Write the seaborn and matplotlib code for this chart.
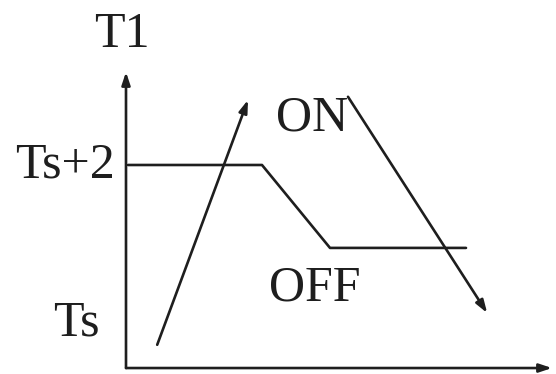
import matplotlib
matplotlib.use("Agg")
import matplotlib.pyplot as plt
import seaborn as sns
import pandas as pd

# threshold curve (x in arbitrary time units, y in T1 units with Ts = 0)
thr_x = [0.05, 3.4, 5.1, 8.5]
thr_y = [2.0, 2.0, 0.93, 0.93]

# arrows: heating (ON) and cooling (OFF) paths
rise_start = (0.78, -0.32)
rise_end = (3.05, 2.84)
fall_start = (5.55, 2.88)
fall_end = (9.03, 0.09)

axis_origin = (0.0, -0.62)
x_axis_end = 10.65
y_axis_end = 3.2

labels = {"T1": (-0.1, 3.68), "Ts+2": (-0.28, 2.0), "Ts": (-0.65, -0.04),
          "ON": (4.65, 2.6), "OFF": (4.72, 0.41)}

sns.set_style("white")
plt.rcParams['font.family'] = ['Liberation Serif', 'DejaVu Serif']

fig = plt.figure(figsize=(5.56, 3.74), dpi=100)
ax = fig.add_axes([0, 0, 1, 1])
ax.set_xlim(-3.15, 10.75)
ax.set_ylim(-0.697, 4.129)
ax.axis("off")

col = "#1e1e1e"
df = pd.DataFrame({"x": thr_x, "y": thr_y})
sns.lineplot(data=df, x="x", y="y", ax=ax, color=col, lw=1.9, sort=False)

arrow = dict(arrowstyle="-|>,head_length=0.75,head_width=0.25", color=col, lw=1.9,
             shrinkA=0, shrinkB=0)
ax.annotate("", xy=(axis_origin[0], y_axis_end), xytext=axis_origin, arrowprops=arrow)
ax.annotate("", xy=(x_axis_end, axis_origin[1]), xytext=axis_origin, arrowprops=arrow)
ax.annotate("", xy=rise_end, xytext=rise_start, arrowprops=arrow)
ax.annotate("", xy=fall_end, xytext=fall_start, arrowprops=arrow)

fs = 36
ax.text(*labels["T1"], "T1", fontsize=fs, ha="center", va="center", color=col)
ax.text(*labels["Ts+2"], "Ts+2", fontsize=fs, ha="right", va="center", color=col)
ax.text(*labels["Ts"], "Ts", fontsize=fs, ha="right", va="center", color=col)
ax.text(*labels["ON"], "ON", fontsize=fs, ha="center", va="center", color=col)
ax.text(*labels["OFF"], "OFF", fontsize=fs, ha="center", va="center", color=col)

fig.savefig("out.png", dpi=100)
